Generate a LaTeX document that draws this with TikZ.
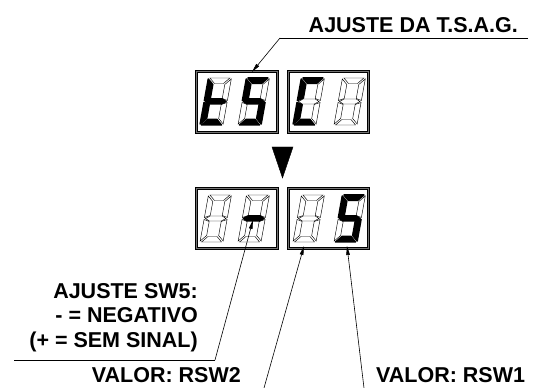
\documentclass[tikz,border=0pt]{standalone}
\usepackage{fontspec}
\setmainfont{Liberation Sans}
\usetikzlibrary{arrows.meta}
\tikzset{
  segoff/.style={draw=black,line width=0.45pt,fill=white},
  segon/.style={draw=black,line width=1.5pt,line join=round,fill=black},
  boxouter/.style={draw=black!55,line width=2pt},
  boxline/.style={draw=black,line width=0.4pt},
  lbl/.style={font=\fontsize{21.5}{24.5}\selectfont\bfseries,inner sep=0pt},
  leader/.style={draw=black,line width=0.6pt},
  tip/.style={-{Triangle[length=9pt,width=3.6pt]}},
}
\newcommand\sg[2]{\ifnum#1=1 \filldraw[segon] #2; \else \draw[segoff] #2; \fi}
\newcommand\dig[9]{%
\begin{scope}[shift={(#1,#2)},xslant=0.18]
\sg{#3}{(1.5,47) -- (21.5,47) -- (16,41.5) -- (7,41.5) -- cycle}
\sg{#4}{(23,46) -- (17.5,40.5) -- (17.5,26.5) -- (23,24.5) -- cycle}
\sg{#5}{(23,1) -- (17.5,6.5) -- (17.5,20.5) -- (23,22.5) -- cycle}
\sg{#6}{(1.5,0) -- (21.5,0) -- (16,5.5) -- (7,5.5) -- cycle}
\sg{#7}{(0,1) -- (5.5,6.5) -- (5.5,20.5) -- (0,22.5) -- cycle}
\sg{#8}{(0,46) -- (5.5,40.5) -- (5.5,26.5) -- (0,24.5) -- cycle}
\sg{#9}{(1.2,23.5) -- (5.5,26) -- (17.5,26) -- (21.8,23.5) -- (17.5,21) -- (5.5,21) -- cycle}
\end{scope}}
\newcommand\dbox[4]{%
\draw[boxouter] (#1,#2) rectangle (#3,#4);
\draw[boxline] (#1-1,#2-1) rectangle (#3+1,#4+1);
\draw[boxline] (#1+1,#2+1) rectangle (#3-1,#4-1);}
\begin{document}
\begin{tikzpicture}[x=1pt,y=1pt]
\useasboundingbox (0,0) rectangle (550,388);
% top display
\dbox{196}{256}{277}{317}
\dbox{288}{256}{368}{317}
\dig{200}{263}{0}{0}{0}{1}{1}{1}{1}
\dig{238}{263}{1}{0}{1}{1}{0}{1}{1}
\dig{293}{263}{1}{0}{0}{1}{1}{1}{0}
\dig{334}{263}{0}{0}{0}{0}{0}{0}{0}
% arrow between
\filldraw[black] (272,241) -- (293,241) -- (282.5,210) -- cycle;
% bottom display
\dbox{196}{140}{277}{200}
\dbox{288}{140}{368}{200}
\dig{200}{146}{0}{0}{0}{0}{0}{0}{0}
\dig{238}{146}{0}{0}{0}{0}{0}{0}{1}
\dig{293}{146}{0}{0}{0}{0}{0}{0}{0}
\dig{334}{146}{1}{0}{1}{1}{0}{1}{1}
% labels
\node[lbl,anchor=base east] (tsag) at (518,355) {AJUSTE DA T.S.A.G.};
\coordinate (tsagL) at (280,350);
\coordinate (tsagR) at (528,350);
\coordinate (tsagT) at (252,316);
\draw[leader] (tsagR) -- (tsagL);
\draw[leader,tip] (tsagL) -- (tsagT);

\node[lbl,anchor=base east] (sw5a) at (198,89) {AJUSTE SW5:};
\node[lbl,anchor=base east] (sw5b) at (198,65) {- = NEGATIVO};
\node[lbl,anchor=base east] (sw5c) at (198,40) {(+ = SEM SINAL)};
\coordinate (swL) at (14,28);
\coordinate (swR) at (215,28);
\coordinate (swT) at (253,168);
\draw[leader] (swL) -- (swR);
\draw[leader,tip] (swR) -- (swT);

\node[lbl,anchor=base east] (rsw2) at (241,5.5) {VALOR: RSW2};
\node[lbl,anchor=base west] (rsw1) at (376,5.5) {VALOR: RSW1};
\coordinate (r2B) at (264,0);
\coordinate (r2T) at (304,142);
\coordinate (r1B) at (364,0);
\coordinate (r1T) at (347,142);
\draw[leader,tip] (r2B) -- (r2T);
\draw[leader,tip] (r1B) -- (r1T);
\end{tikzpicture}
\end{document}
